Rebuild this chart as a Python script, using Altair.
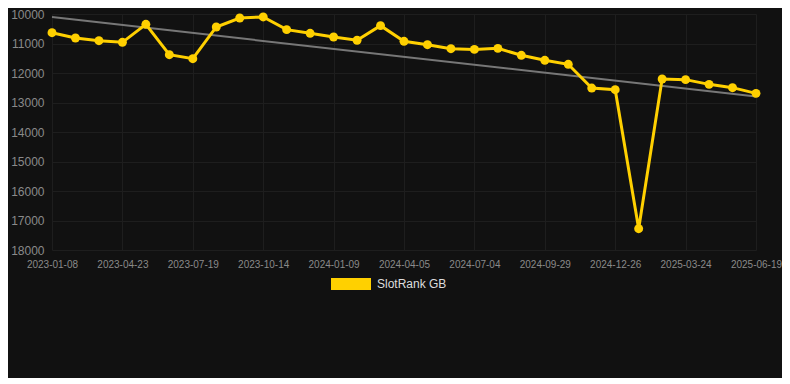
import json
import altair as alt
import pandas as pd

dates = [
    "2023-01-08", "2023-02-12", "2023-03-19", "2023-04-23", "2023-05-22", "2023-06-20",
    "2023-07-19", "2023-08-17", "2023-09-15", "2023-10-14", "2023-11-12", "2023-12-11",
    "2024-01-09", "2024-02-07", "2024-03-07", "2024-04-05", "2024-05-05", "2024-06-04",
    "2024-07-04", "2024-08-02", "2024-08-31", "2024-09-29", "2024-10-28", "2024-11-27",
    "2024-12-26", "2025-01-24", "2025-02-22", "2025-03-24", "2025-04-22", "2025-05-21",
    "2025-06-19",
]
ranks = [
    10633, 10814, 10904, 10960, 10350, 11380, 11515, 10440, 10136, 10100, 10530,
    10655, 10780, 10890, 10395, 10927, 11040, 11175, 11200, 11165, 11400, 11570,
    11705, 12510, 12565, 17277, 12203, 12225, 12385, 12497, 12690,
]
series_name = "SlotRank GB"
y_ticks = [10000, 11000, 12000, 13000, 14000, 15000, 16000, 17000, 18000]

df = pd.DataFrame({"idx": list(range(len(dates))), "date": dates, "rank": ranks, "series": series_name})

BG = "#111111"
GRID = "#1e1e1e"
LABEL = "#8a8a8a"
YELLOW = "#FFD000"

x_enc = alt.X(
    "idx:Q",
    scale=alt.Scale(domain=[0, len(dates) - 1], nice=False, zero=False),
    axis=alt.Axis(
        values=list(range(0, len(dates), 3)),
        labelExpr=json.dumps(dates) + "[datum.value]",
        title=None, grid=True, gridColor=GRID, domain=False, ticks=False,
        labelColor=LABEL, labelFontSize=10, labelPadding=9, labelFont="Liberation Sans",
        labelOverlap=False, labelFlush=False,
    ),
)
y_enc = alt.Y(
    "rank:Q",
    scale=alt.Scale(domain=[10000, 18000], reverse=True, nice=False, zero=False),
    axis=alt.Axis(
        values=y_ticks, format="d", title=None, grid=True, gridColor=GRID, domain=False, ticks=False,
        labelColor=LABEL, labelFontSize=12, labelPadding=8, labelFont="Liberation Sans",
    ),
)

base = alt.Chart(df)

trend = base.transform_regression("idx", "rank").mark_line(
    color="#777777", strokeWidth=2
).encode(x=x_enc, y=y_enc)

color_enc = alt.Color(
    "series:N",
    scale=alt.Scale(domain=[series_name], range=[YELLOW]),
    legend=alt.Legend(
        title=None, orient="none", legendX=279, legendY=250, direction="horizontal",
        symbolType="M-1,-0.3L1,-0.3L1,0.3L-1,0.3Z", symbolSize=1600,
        symbolStrokeWidth=0, symbolFillColor=YELLOW, symbolOpacity=1,
        labelColor="#dddddd", labelFontSize=12, labelFont="Liberation Sans", labelOffset=6,
    ),
)

line = base.mark_line(strokeWidth=3).encode(x=x_enc, y=y_enc, color=color_enc)
points = base.mark_circle(size=80, opacity=1).encode(
    x=x_enc, y=y_enc,
    color=alt.Color("series:N", scale=alt.Scale(domain=[series_name], range=[YELLOW]), legend=None),
)

chart = (
    alt.layer(trend, line, points)
    .properties(width=704, height=236, background=BG,
                padding={"left": 2, "top": 0, "right": 0, "bottom": 88})
    .configure_view(stroke=None)
)

chart.save("out.html", embed_options={"renderer": "svg", "actions": False})
